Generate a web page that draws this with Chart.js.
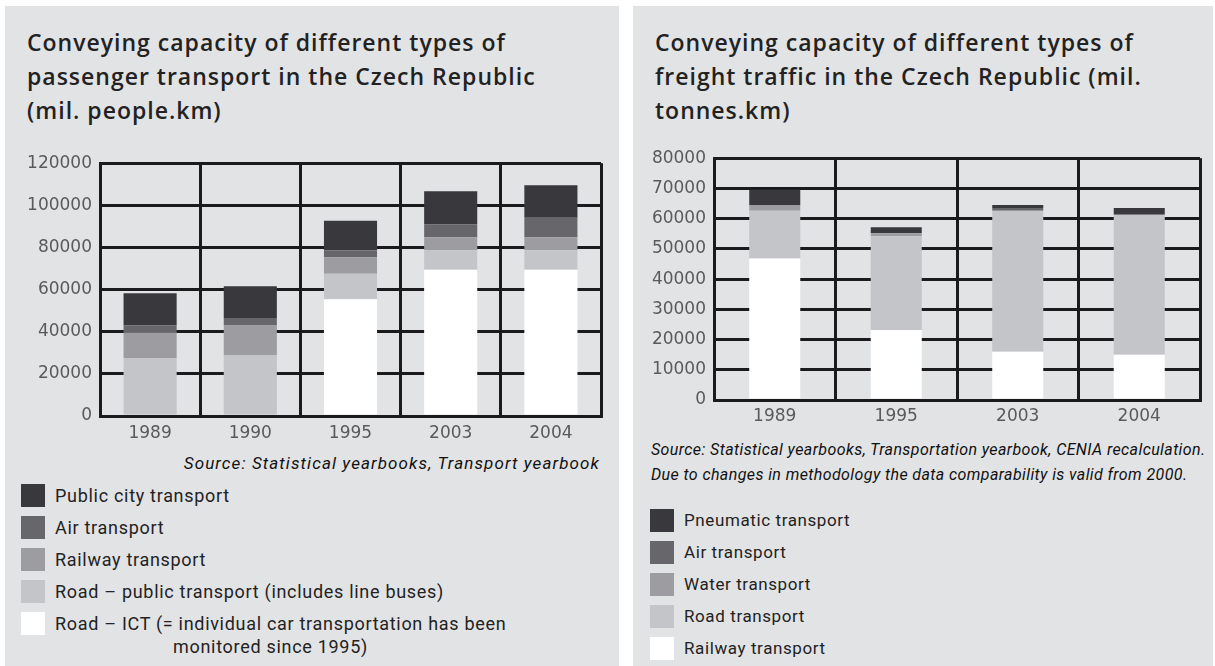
<!DOCTYPE html>
<html>
<head>
<meta charset="utf-8">
<script src="https://cdn.jsdelivr.net/npm/chart.js@4/dist/chart.umd.min.js"></script>
<style>
  body { margin: 0; width: 1215px; height: 666px; background: #fff; position: relative; overflow: hidden; font-family: "Open Sans", sans-serif; }
  .panel { position: absolute; top: 6px; height: 660px; background: #e2e3e5; }
  .title { position: absolute; top: 25px; font-size: 23px; line-height: 34px; color: #222; font-weight: 600; letter-spacing: 1px; white-space: nowrap; }
  .source { position: absolute; font-family: Roboto, sans-serif; font-style: italic; color: #111; white-space: nowrap; }
  .legend { position: absolute; font-family: Roboto, sans-serif; color: #222; }
  .legend .row { position: relative; height: 32px; }
  .legend .sw { position: absolute; left: 0; top: 0; width: 24px; height: 23px; }
  .legend .tx { position: absolute; left: 34px; top: 0; line-height: 23px; white-space: nowrap; }
  canvas { position: absolute; }
</style>
</head>
<body>
<div class="panel" style="left:5px;width:614px"></div>
<div class="panel" style="left:633px;width:580px"></div>

<div class="title" style="left:27px">Conveying capacity of different types of<br>passenger transport in the Czech Republic<br>(mil. people.km)</div>
<div class="title" style="left:655px">Conveying capacity of different types of<br>freight traffic in the Czech Republic (mil.<br>tonnes.km)</div>

<canvas id="passenger" width="605" height="300" style="left:5px;top:145px"></canvas>
<canvas id="freight" width="575" height="290" style="left:633px;top:140px"></canvas>

<div class="source" style="right:615px;top:453px;font-size:17px;letter-spacing:1.1px">Source: Statistical yearbooks, Transport yearbook</div>
<div class="source" style="left:651px;top:437px;line-height:25px;font-size:16px;letter-spacing:0.4px">Source: Statistical yearbooks, Transportation yearbook, CENIA recalculation.<br>Due to changes in methodology the data comparability is valid from 2000.</div>

<div class="legend" id="legendPassenger" style="left:21px;top:484px;font-size:18px;letter-spacing:0.7px"></div>
<div class="legend" id="legendFreight" style="left:650px;top:509px;font-size:17px;letter-spacing:0.6px"></div>

<script>
// passenger transport, mil. people.km
const passengerYears = ['1989', '1990', '1995', '2003', '2004'];
const roadIct = [0, 0, 55400, 69400, 69400];
const roadPublic = [27500, 28900, 12100, 9300, 9300];
const railwayPassenger = [12100, 14000, 7900, 6100, 6100];
const airPassenger = [3300, 3250, 3250, 6100, 9300];
const publicCity = [15400, 15400, 14000, 15800, 15400];
const passengerTicks = [0, 20000, 40000, 60000, 80000, 100000, 120000];

// freight traffic, mil. tonnes.km
const freightYears = ['1989', '1995', '2003', '2004'];
const railwayFreight = [46800, 23200, 16000, 15000];
const roadFreight = [15800, 31000, 46600, 46300];
const waterFreight = [1950, 1000, 0, 0];
const airFreight = [0, 0, 950, 0];
const pneumatic = [5050, 1950, 950, 2250];
const freightTicks = [0, 10000, 20000, 30000, 40000, 50000, 60000, 70000, 80000];

const C_DARK = '#39383c';
const C_AIR = '#67666a';
const C_MID = '#9d9da1';
const C_LIGHT = '#c4c5c8';
const C_WHITE = '#ffffff';

Chart.defaults.font.family = '"DejaVu Sans", sans-serif';
Chart.defaults.animation = false;

function BuildLegend(el, items) {
    // top of the stack first, like the printed key
    for (const item of items) {
        const row = document.createElement('div');
        row.className = 'row';
        row.innerHTML = '<div class="sw" style="background:' + item.color + '"></div><div class="tx">' + item.label + '</div>';
        el.appendChild(row);
    }
}

function StackedChart(ctx, labels, datasets, ticks, opts) {
    const maxTick = ticks[ticks.length - 1];
    return new Chart(ctx, {
        type: 'bar',
        data: {
            labels: labels,
            datasets: datasets.map(d => ({
                label: d.label,
                data: d.data,
                backgroundColor: d.color,
                borderWidth: 0,
                barPercentage: opts.barPct,
                categoryPercentage: 1
            }))
        },
        options: {
            responsive: false,
            layout: { padding: { top: opts.padTop, right: opts.padRight, left: 0, bottom: 0 } },
            plugins: { legend: { display: false }, tooltip: { enabled: false } },
            scales: {
                x: {
                    stacked: true,
                    grid: { color: '#1b1b1d', lineWidth: 3, drawTicks: false, offset: true },
                    border: { color: '#1b1b1d', width: 3 },
                    ticks: { color: '#5a5a5a', font: { size: 17 }, padding: opts.xPad },
                    afterFit: s => { s.height = opts.xHeight; }
                },
                y: {
                    stacked: true,
                    min: 0,
                    max: maxTick,
                    afterBuildTicks: s => { s.ticks = ticks.map(v => ({ value: v })); },
                    grid: { color: '#1b1b1d', lineWidth: 3, drawTicks: false },
                    border: { color: '#1b1b1d', width: 3 },
                    ticks: { color: '#5a5a5a', font: { size: 17 }, padding: 8, callback: v => String(v) },
                    afterFit: s => { s.width = opts.yWidth; }
                }
            }
        }
    });
}

const passengerSets = [
    { label: 'Road – ICT (= individual car transportation has been monitored since 1995)', data: roadIct, color: C_WHITE },
    { label: 'Road – public transport (includes line buses)', data: roadPublic, color: C_LIGHT },
    { label: 'Railway transport', data: railwayPassenger, color: C_MID },
    { label: 'Air transport', data: airPassenger, color: C_AIR },
    { label: 'Public city transport', data: publicCity, color: C_DARK }
];
const freightSets = [
    { label: 'Railway transport', data: railwayFreight, color: C_WHITE },
    { label: 'Road transport', data: roadFreight, color: C_LIGHT },
    { label: 'Water transport', data: waterFreight, color: C_MID },
    { label: 'Air transport', data: airFreight, color: C_AIR },
    { label: 'Pneumatic transport', data: pneumatic, color: C_DARK }
];

StackedChart(document.getElementById('passenger').getContext('2d'), passengerYears, passengerSets, passengerTicks,
    { barPct: 0.53, padTop: 13, padRight: 9, xHeight: 29, xPad: 7, yWidth: 95 });
StackedChart(document.getElementById('freight').getContext('2d'), freightYears, freightSets, freightTicks,
    { barPct: 0.42, padTop: 13, padRight: 8, xHeight: 30, xPad: 6, yWidth: 81 });

const legP = passengerSets.slice().reverse().map(d => ({ label: d.label, color: d.color }));
legP[4].label = 'Road – ICT (= individual car transportation has been<br><span style="padding-left:118px">monitored since 1995)</span>';
BuildLegend(document.getElementById('legendPassenger'), legP);
BuildLegend(document.getElementById('legendFreight'), freightSets.slice().reverse().map(d => ({ label: d.label, color: d.color })));
</script>
</body>
</html>
